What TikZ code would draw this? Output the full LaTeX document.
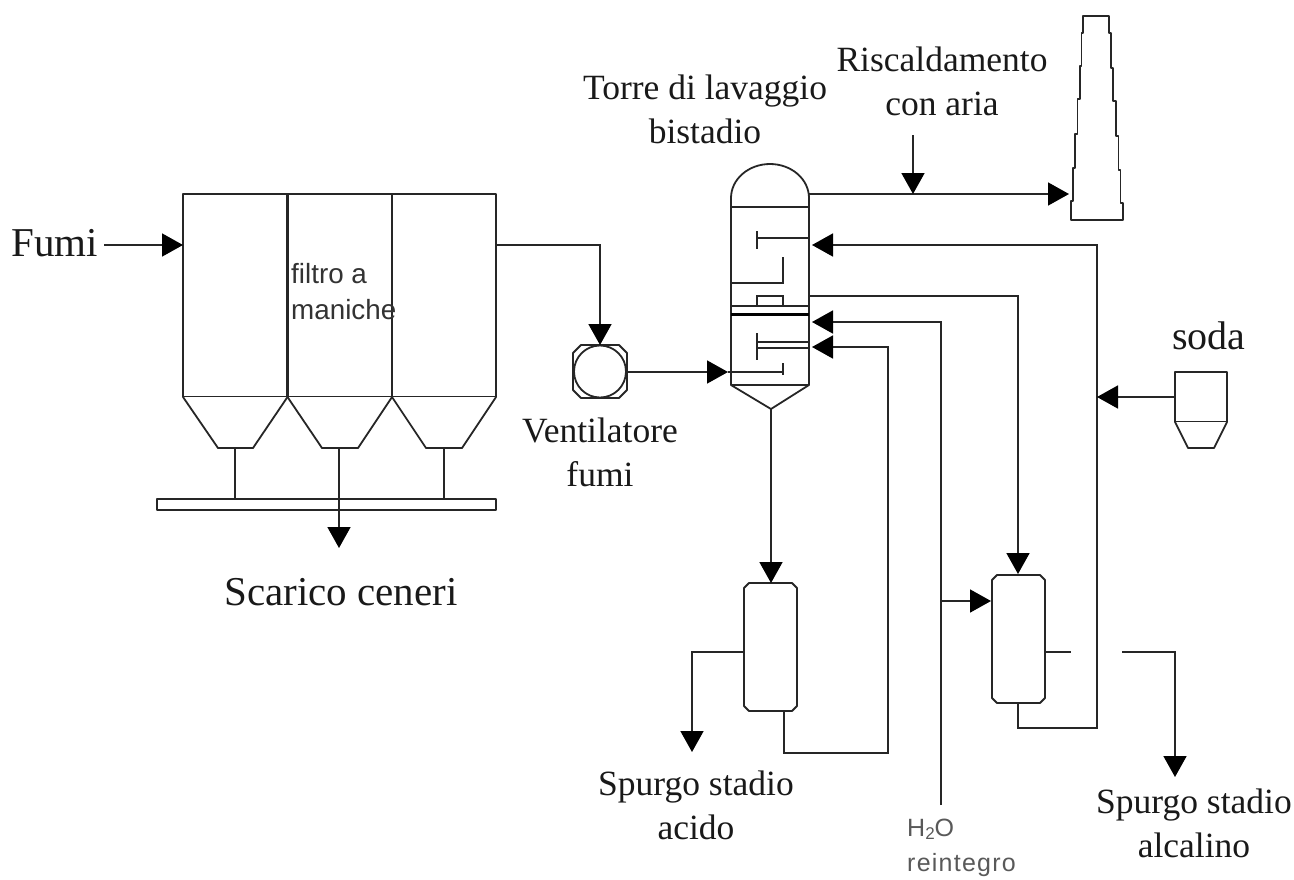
\documentclass[tikz,border=0pt]{standalone}
\usepackage{fontspec}
\setmainfont{Liberation Serif}
\newfontfamily\arialf{Liberation Sans}
\newfontfamily\arialsp[LetterSpace=5]{Liberation Sans}
\usetikzlibrary{arrows.meta}
\definecolor{ink}{gray}{0.15}
\tikzset{
  pipe/.style={draw=ink,line width=1.7pt,line join=miter},
  flow/.style={pipe,-{Triangle[length=21pt,width=23pt,color=black]}},
  vessel/.style={draw=ink,line width=1.8pt,line join=round,fill=white},
  thin wall/.style={draw=ink,line width=1.8pt},
  divider/.style={draw=ink,line width=2.2pt},
  lab/.style={inner sep=0pt,align=center,text=black!90},
  lab large/.style={lab,font=\fontsize{35.5}{44}\selectfont},
  lab big/.style={lab,font=\fontsize{41}{44}\selectfont},
  sanslab/.style={inner sep=0pt,align=left,text=black!80,font=\fontsize{27.8}{36}\selectfont\arialf},
  graylab/.style={inner sep=0pt,align=left,text=black!65,font=\fontsize{25}{35}\selectfont\arialsp},
}
\begin{document}
\begin{tikzpicture}[x=1pt,y=-1pt]
\useasboundingbox (0,0) rectangle (1294,879);
% ---------- named ports ----------
\coordinate (fumiStart) at (104,245);
\coordinate (filterIn) at (183,245);
\coordinate (filterOut) at (496,245);
\coordinate (fanElbow) at (600,245);
\coordinate (fanTop) at (600,345);
\coordinate (fanRight) at (627,372);
\coordinate (towerGasIn) at (728,372);
\coordinate (towerTopOut) at (809,194);
\coordinate (stackIn) at (1069,194);
\coordinate (airStart) at (913,135);
\coordinate (airJoin) at (913,194);
\coordinate (towerIn1) at (812,245);
\coordinate (towerIn2) at (812,322);
\coordinate (towerIn3) at (812,347);
\coordinate (towerOut2) at (809,296);
\coordinate (towerBottom) at (771,409);
\coordinate (acidTop) at (771,583);
\coordinate (alkTop) at (1018,574);
\coordinate (alkElbow) at (1018,296);
\coordinate (alkBottom) at (1018,703);
\coordinate (alkBotElbow) at (1018,728);
\coordinate (recycleCorner) at (1097,728);
\coordinate (recycleTop) at (1097,245);
\coordinate (sodaJoin) at (1097,397);
\coordinate (sodaOut) at (1175,397);
\coordinate (waterEnd) at (941,805);
\coordinate (waterTop) at (941,322);
\coordinate (waterJoin) at (941,601);
\coordinate (alkIn) at (991,601);
\coordinate (acidBottom) at (784,711);
\coordinate (acidBotElbow) at (784,753);
\coordinate (acidRecCorner) at (888,753);
\coordinate (acidRecTop) at (888,347);
\coordinate (acidLeft) at (744,652);
\coordinate (acidPurgeElbow) at (692,652);
\coordinate (acidPurgeEnd) at (692,752);
\coordinate (alkRight) at (1045,652);
\coordinate (alkStubEnd) at (1071,652);
\coordinate (alkPurgeStart) at (1122,652);
\coordinate (alkPurgeElbow) at (1175,652);
\coordinate (alkPurgeEnd) at (1175,777);
\coordinate (hop1) at (235,448);
\coordinate (hop2) at (339,448);
\coordinate (hop3) at (444,448);
\coordinate (bar1) at (235,499);
\coordinate (bar3) at (444,499);
\coordinate (ashEnd) at (339,548);
% ---------- baghouse ----------
\draw[vessel] (183,194) rectangle (496,397);
\draw[divider] (287.5,194) -- (287.5,397) (392,194) -- (392,397);
\draw[vessel] (183,397) -- (218,448) -- (253,448) -- (287.5,397);
\draw[vessel] (287.5,397) -- (322,448) -- (358,448) -- (392,397);
\draw[vessel] (392,397) -- (426,448) -- (462,448) -- (496,397);
\draw[vessel] (157,499) rectangle (496,510);
\draw[pipe] (hop1) -- (bar1);
\draw[pipe] (hop3) -- (bar3);
\draw[flow] (hop2) -- (ashEnd);
\draw[flow] (fumiStart) -- (filterIn);
% ---------- fan ----------
\draw[vessel] (581,345) -- (619,345) -- (627,353) -- (627,390) -- (619,398) -- (581,398) -- (573,390) -- (573,353) -- cycle;
\draw[vessel] (600,371.5) circle (26);
\draw[flow] (filterOut) -- (fanElbow) -- (fanTop);
% ---------- tower ----------
\draw[vessel] (731,198) arc[start angle=180,end angle=360,x radius=39,y radius=34] -- (809,385) -- (771,409) -- (731,385) -- cycle;
\draw[thin wall] (731,207) -- (809,207);
\draw[thin wall] (731,385) -- (809,385);
\draw[thin wall] (809,238) -- (757,238) (757,231) -- (757,249);
\draw[thin wall] (731,283) -- (783,283) -- (783,257);
\draw[thin wall] (731,306) -- (809,306);
\draw[thin wall] (757,306) -- (757,296) -- (783,296) -- (783,306);
\draw[draw=black,line width=3pt] (731,314) -- (809,314);
\draw[thin wall] (809,342) -- (757,342) (809,348) -- (757,348) (757,333) -- (757,360);
\draw[thin wall] (783,363) -- (783,375);
\draw[pipe] (towerGasIn) -- (783,372);
\draw[flow] (fanRight) -- (towerGasIn);
% ---------- stack ----------
\draw[vessel] (1083,16) -- (1109,16) -- (1109,33) -- (1111,33) -- (1111,68) -- (1113,68) -- (1113,101) -- (1116,101) -- (1116,136) -- (1118.5,136) -- (1118.5,170) -- (1120.5,170) -- (1120.5,203) -- (1123,203) -- (1123,220) -- (1071,220) -- (1071,201) -- (1073,201) -- (1073,168) -- (1075,168) -- (1075,134) -- (1077.5,134) -- (1077.5,99) -- (1080,99) -- (1080,66) -- (1081.5,66) -- (1081.5,33) -- (1083,33) -- cycle;
\draw[flow] (towerTopOut) -- (stackIn);
\draw[flow] (airStart) -- (airJoin);
% ---------- columns ----------
\draw[vessel] (749,583) -- (792,583) -- (797,588) -- (797,706) -- (792,711) -- (749,711) -- (744,706) -- (744,588) -- cycle;
\draw[vessel] (997,575) -- (1040,575) -- (1045,580) -- (1045,698) -- (1040,703) -- (997,703) -- (992,698) -- (992,580) -- cycle;
% ---------- soda ----------
\draw[vessel] (1175,372) rectangle (1227,422);
\draw[vessel] (1175,422) -- (1188,448) -- (1214,448) -- (1227,422);
% ---------- process lines ----------
\draw[flow] (towerBottom) -- (acidTop);
\draw[flow] (towerOut2) -- (alkElbow) -- (alkTop);
\draw[flow] (alkBottom) -- (alkBotElbow) -- (recycleCorner) -- (recycleTop) -- (towerIn1);
\draw[flow] (sodaOut) -- (sodaJoin);
\draw[flow] (waterEnd) -- (waterTop) -- (towerIn2);
\draw[flow] (waterJoin) -- (alkIn);
\draw[flow] (acidBottom) -- (acidBotElbow) -- (acidRecCorner) -- (acidRecTop) -- (towerIn3);
\draw[flow] (acidLeft) -- (acidPurgeElbow) -- (acidPurgeEnd);
\draw[pipe] (alkRight) -- (alkStubEnd);
\draw[flow] (alkPurgeStart) -- (alkPurgeElbow) -- (alkPurgeEnd);
% ---------- labels ----------
\node[lab big,anchor=base] (lblFumi) at (54.5,256) {Fumi};
\node[sanslab,anchor=north west] (lblFiltro) at (291,263) {filtro a\\maniche};
\node[lab big,anchor=base] (lblCeneri) at (341,605) {Scarico ceneri};
\node[lab large] (lblTorre) at (705,109.5) {Torre di lavaggio\\bistadio};
\node[lab large] (lblRisc) at (942,81.5) {Riscaldamento\\con aria};
\node[lab large,anchor=base] (lblSoda) at (1209,349) {\fontsize{40}{44}\selectfont soda};
\node[lab large] (lblVent) at (600,452.5) {Ventilatore\\fumi};
\node[lab large] (lblAcido) at (696,805.5) {Spurgo stadio\\acido};
\node[lab large] (lblAlc) at (1194,823.5) {Spurgo stadio\\alcalino};
\node[graylab,anchor=north west] (lblH2O) at (907,819) {H\raisebox{-3pt}{\fontsize{17}{17}\selectfont 2}O\\reintegro};
\end{tikzpicture}
\end{document}
